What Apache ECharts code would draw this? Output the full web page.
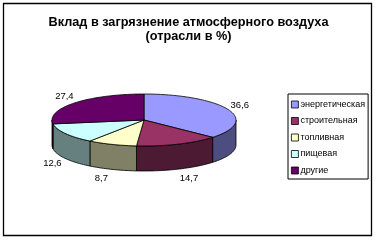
<!DOCTYPE html>
<html>
<head>
<meta charset="utf-8">
<script src="https://cdn.jsdelivr.net/npm/echarts@6/dist/echarts.min.js"></script>
<style>
  html, body { margin: 0; padding: 0; background: #fff; }
  #chart { width: 377px; height: 240px; }
</style>
</head>
<body>
<div id="chart"></div>
<script>
  // данные диаграммы
  var categories = ['энергетическая', 'строительная', 'топливная', 'пищевая', 'другие'];
  var values = [36.6, 14.7, 8.7, 12.6, 27.4];

  // палитра: верх и боковая стенка
  var topColors = ['#9999FF', '#993366', '#FFFFCC', '#CCFFFF', '#660066'];
  var sideColors = ['#4D4D80', '#4D1A33', '#808066', '#668080', '#330033'];

  // геометрия "объёмного" круга
  var cx = 144, cy = 120, rx = 92, ry = 26, depth = 25;

  var total = values.reduce(function (s, v) { return s + v; }, 0);
  var starts = [];
  var acc = 0;
  values.forEach(function (v) { starts.push(acc); acc += v; });

  function pt(t, dy) {
    return [cx + rx * Math.sin(t), cy - ry * Math.cos(t) + (dy || 0)];
  }

  function arcPoints(a, b, dy) {
    var pts = [];
    var n = Math.max(2, Math.ceil((b - a) / 0.03));
    for (var i = 0; i <= n; i++) pts.push(pt(a + (b - a) * i / n, dy));
    return pts;
  }

  var chart = echarts.init(document.getElementById('chart'));

  chart.setOption({
    animation: false,
    title: {
      text: 'Вклад в загрязнение атмосферного воздуха\n(отрасли в %)',
      left: 'center',
      top: 10,
      textStyle: {
        fontFamily: 'Liberation Sans, Arial, sans-serif',
        fontSize: 12.7,
        fontWeight: 'bold',
        color: '#000',
        lineHeight: 14
      }
    },
    legend: {
      orient: 'vertical',
      left: 288,
      top: 94,
      padding: [6, 3, 4, 3],
      itemWidth: 7,
      itemHeight: 7,
      itemGap: 7.5,
      borderColor: '#000',
      borderWidth: 1,
      backgroundColor: '#fff',
      icon: 'rect',
      data: categories,
      itemStyle: { borderColor: '#000', borderWidth: 0.8 },
      textStyle: {
        fontFamily: 'Liberation Sans, Arial, sans-serif',
        fontSize: 9,
        lineHeight: 7,
        color: '#000',
        padding: [0, 0, 0, -3]
      }
    },
    graphic: [{
      type: 'rect',
      shape: { x: 3.5, y: 3.5, width: 368, height: 232 },
      style: { fill: 'none', stroke: '#000', lineWidth: 1.3 },
      z: 100
    }],
    series: [
      {
        // скрытый круг только для легенды
        type: 'pie',
        radius: [0, 0],
        center: [cx, cy],
        silent: true,
        label: { show: false },
        labelLine: { show: false },
        color: topColors,
        data: categories.map(function (c, i) { return { name: c, value: values[i] }; })
      },
      {
        type: 'custom',
        coordinateSystem: 'none',
        silent: true,
        data: values.map(function (v, i) { return [v, starts[i]]; }),
        renderItem: function (params, api) {
          var i = params.dataIndex;
          var v = api.value(0);
          var t0 = api.value(1) / total * Math.PI * 2;
          var t1 = t0 + v / total * Math.PI * 2;
          var children = [];

          // боковая стенка (видна только передняя половина)
          var a = Math.max(t0, Math.PI / 2), b = Math.min(t1, Math.PI * 1.5);
          if (b > a) {
            var sidePts = arcPoints(a, b, 0).concat(arcPoints(a, b, depth).reverse());
            children.push({
              type: 'polygon',
              shape: { points: sidePts },
              style: { fill: sideColors[i], stroke: '#000', lineWidth: 0.8 }
            });
          }

          // верхняя грань
          children.push({
            type: 'polygon',
            shape: { points: [[cx, cy]].concat(arcPoints(t0, t1, 0)) },
            style: { fill: topColors[i], stroke: '#000', lineWidth: 0.8 }
          });

          // подпись значения
          var tm = (t0 + t1) / 2;
          var s = Math.sin(tm), c = Math.cos(tm);
          var front = c < 0;
          var lx = cx + (rx + 13) * s + (front ? 7 * Math.sign(s) * c * c : 0);
          var ly = cy - (ry + 10) * c + (front ? depth : 0);
          children.push({
            type: 'text',
            style: {
              x: lx, y: ly,
              text: String(v).replace('.', ','),
              fill: '#000',
              font: '9.5px "Liberation Sans", Arial, sans-serif',
              textAlign: 'center',
              textVerticalAlign: 'middle'
            }
          });

          return { type: 'group', children: children };
        }
      }
    ]
  });
</script>
</body>
</html>
